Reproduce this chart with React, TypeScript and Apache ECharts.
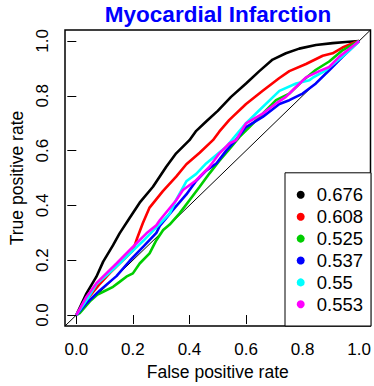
import React, { useEffect, useRef } from "react";
import * as echarts from "echarts";

const titleText = "Myocardial Infarction";
const xName = "False positive rate";
const yName = "True positive rate";
const axisMin = -0.04;
const axisMax = 1.04;
const tickValues = [0, 0.2, 0.4, 0.6, 0.8, 1.0];
const tickLabels = ["0.0", "0.2", "0.4", "0.6", "0.8", "1.0"];

const seriesNames = ["0.676", "0.608", "0.525", "0.537", "0.55", "0.553"];
const seriesColors = ["#000000", "#FF0000", "#00CD00", "#0000FF", "#00FFFF", "#FF00FF"];

const curveBlack = [
  [0, 0], [0.036, 0.079], [0.071, 0.14], [0.095, 0.195], [0.13, 0.255], [0.153, 0.298],
  [0.189, 0.355], [0.224, 0.41], [0.271, 0.468], [0.318, 0.541], [0.353, 0.59], [0.4, 0.638],
  [0.424, 0.672], [0.459, 0.706], [0.5, 0.745], [0.547, 0.796], [0.6, 0.845], [0.647, 0.89],
  [0.694, 0.932], [0.741, 0.955], [0.788, 0.972], [0.847, 0.985], [0.906, 0.992], [0.953, 0.996], [1, 1],
];
const curveRed = [
  [0, 0], [0.04, 0.06], [0.08, 0.11], [0.12, 0.155], [0.16, 0.195], [0.2, 0.235], [0.215, 0.28],
  [0.235, 0.335], [0.259, 0.392], [0.306, 0.452], [0.353, 0.505], [0.389, 0.55], [0.436, 0.592],
  [0.483, 0.638], [0.506, 0.67], [0.541, 0.712], [0.6, 0.77], [0.659, 0.818], [0.718, 0.865],
  [0.753, 0.89], [0.812, 0.916], [0.871, 0.946], [0.906, 0.955], [0.941, 0.976], [0.988, 0.996], [1, 1],
];
const curveGreen = [
  [0, 0], [0.012, 0.007], [0.048, 0.05], [0.075, 0.075], [0.095, 0.085], [0.13, 0.103],
  [0.153, 0.121], [0.177, 0.14], [0.2, 0.152], [0.224, 0.188], [0.259, 0.225], [0.283, 0.273],
  [0.307, 0.31], [0.33, 0.33], [0.365, 0.371], [0.4, 0.419], [0.436, 0.468], [0.471, 0.517],
  [0.506, 0.563], [0.541, 0.605], [0.577, 0.65], [0.612, 0.686], [0.659, 0.735], [0.706, 0.784],
  [0.753, 0.808], [0.8, 0.855], [0.847, 0.895], [0.894, 0.925], [0.941, 0.966], [1, 1],
];
const curveBlue = [
  [0, 0], [0.036, 0.043], [0.083, 0.09], [0.142, 0.142], [0.189, 0.198], [0.236, 0.249],
  [0.283, 0.3], [0.295, 0.325], [0.341, 0.383], [0.389, 0.44], [0.424, 0.49], [0.459, 0.527],
  [0.495, 0.553], [0.53, 0.6], [0.565, 0.64], [0.6, 0.686], [0.659, 0.723], [0.718, 0.77],
  [0.753, 0.784], [0.8, 0.808], [0.847, 0.845], [0.894, 0.893], [0.941, 0.942], [1, 1],
];
const curveCyan = [
  [0, 0], [0.04, 0.06], [0.071, 0.112], [0.11, 0.148], [0.15, 0.185], [0.19, 0.225],
  [0.236, 0.27], [0.283, 0.32], [0.33, 0.37], [0.353, 0.42], [0.389, 0.488], [0.424, 0.515],
  [0.459, 0.553], [0.53, 0.614], [0.6, 0.7], [0.647, 0.747], [0.718, 0.818], [0.777, 0.845],
  [0.824, 0.857], [0.835, 0.865], [0.882, 0.893], [0.894, 0.903], [0.953, 0.954], [1, 1],
];
const curveMagenta = [
  [0, 0], [0.036, 0.067], [0.071, 0.116], [0.106, 0.152], [0.142, 0.188], [0.177, 0.225],
  [0.212, 0.261], [0.248, 0.298], [0.283, 0.328], [0.295, 0.346], [0.353, 0.419], [0.377, 0.456],
  [0.424, 0.492], [0.471, 0.541], [0.506, 0.59], [0.541, 0.626], [0.565, 0.638], [0.6, 0.699],
  [0.659, 0.735], [0.706, 0.772], [0.741, 0.796], [0.777, 0.832], [0.812, 0.867], [0.859, 0.89],
  [0.894, 0.905], [0.929, 0.942], [0.988, 0.99], [1, 1],
];
const curves = [curveBlack, curveRed, curveGreen, curveBlue, curveCyan, curveMagenta];
const diagonal = [[axisMin, axisMin], [axisMax, axisMax]];

const FONT = "'Liberation Sans', Arial, Helvetica, sans-serif";

export default function App() {
  const ref = useRef<HTMLDivElement>(null);
  useEffect(() => {
    document.body.style.margin = "0";
    const chart = echarts.init(ref.current!, null, { renderer: "svg" });
    const fmt = (v: number) => {
      const i = tickValues.findIndex((t) => Math.abs(t - v) < 1e-6);
      return i >= 0 ? tickLabels[i] : "";
    };
    const axisCommon = {
      type: "value" as const,
      min: axisMin,
      max: axisMax,
      axisLine: { show: false },
      splitLine: { show: false },
      axisTick: {
        show: true,
        inside: false,
        length: 9,
        customValues: tickValues,
        lineStyle: { color: "#000", width: 1 },
      },
      nameLocation: "middle" as const,
      nameTextStyle: { fontSize: 17.5, color: "#000", fontFamily: FONT },
    };
    chart.setOption({
      animation: false,
      backgroundColor: "#fff",
      grid: {
        left: 65,
        right: 3,
        top: 30,
        bottom: 60,
        show: true,
        borderColor: "#000",
        borderWidth: 1.5,
        backgroundColor: "transparent",
      },
      graphic: [
        {
          type: "text",
          x: 218,
          y: 14,
          style: {
            text: titleText,
            fill: "#0000FF",
            font: `bold 22.5px ${FONT}`,
            textAlign: "center",
            textVerticalAlign: "middle",
          },
        },
      ],
      legend: {
        data: seriesNames,
        orient: "vertical",
        left: 285,
        bottom: 60,
        icon: "circle",
        itemWidth: 8,
        itemHeight: 8,
        itemGap: 1.9,
        padding: [12, 8, 11.7, 11.7],
        backgroundColor: "#fff",
        borderColor: "#000",
        borderWidth: 1,
        borderRadius: 0,
        textStyle: {
          fontSize: 18.5,
          color: "#000",
          fontFamily: FONT,
          lineHeight: 20,
          padding: [0, 0, 0, 7],
        },
      },
      xAxis: {
        ...axisCommon,
        name: xName,
        nameGap: 33,
        axisLabel: {
          customValues: tickValues,
          formatter: fmt,
          margin: 15,
          fontSize: 17,
          color: "#000",
          fontFamily: FONT,
        },
      },
      yAxis: {
        ...axisCommon,
        name: yName,
        nameGap: 23,
        axisLabel: {
          customValues: tickValues,
          formatter: fmt,
          margin: 14,
          rotate: 90,
          fontSize: 17,
          color: "#000",
          fontFamily: FONT,
        },
      },
      series: [
        {
          type: "line",
          name: "diagonal",
          data: diagonal,
          showSymbol: false,
          lineStyle: { color: "#000", width: 1 },
          silent: true,
          z: 1,
        },
        ...curves.map((c, i) => ({
          type: "line",
          name: seriesNames[i],
          data: c,
          showSymbol: false,
          color: seriesColors[i],
          lineStyle: { color: seriesColors[i], width: 2.6 },
          z: 2 + i,
        })),
      ],
    });
    return () => chart.dispose();
  }, []);
  return <div ref={ref} style={{ width: 374, height: 386 }} />;
}
